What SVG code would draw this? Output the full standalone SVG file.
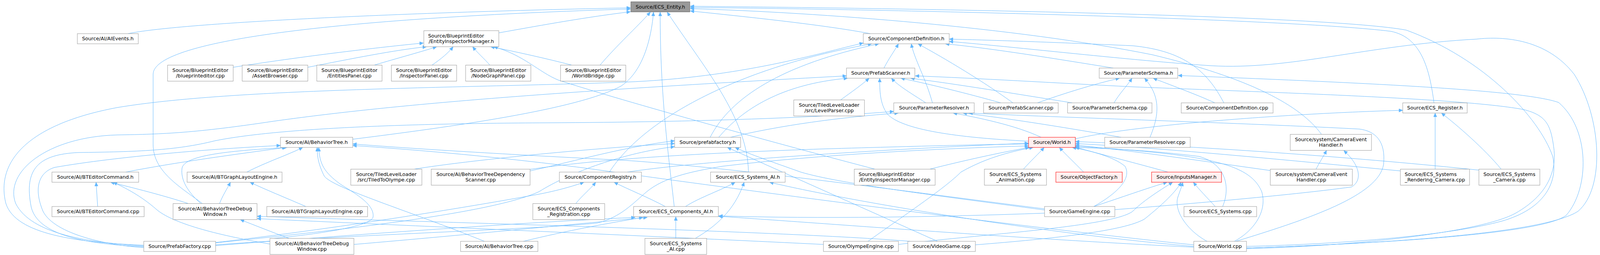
<svg xmlns="http://www.w3.org/2000/svg" width="4112" height="652" viewBox="0 0 4112 652">
<defs>
<style>
.nd rect{fill:#ffffff;stroke:#999999;stroke-width:1}
.cur rect{fill:#999999;stroke:#666666;stroke-width:1}
.red rect{fill:#fff0f0;stroke:#ff0000;stroke-width:1}
text{font-family:"DejaVu Sans","Liberation Sans",sans-serif;font-size:12.7px;fill:#000000;text-anchor:middle}
text.l{text-anchor:start}
#edges path{fill:none;stroke:#63b8ff;stroke-width:1;marker-end:url(#ah)}
</style>
<marker id="ah" viewBox="0 0 10 9" refX="10" refY="4.5" markerWidth="10" markerHeight="9" markerUnits="userSpaceOnUse" orient="auto">
<path d="M0,0 L10,4.5 L0,9 z" fill="#63b8ff" stroke="#63b8ff" stroke-width="0.5"/>
</marker>
</defs>
<rect x="0" y="0" width="4112" height="652" fill="#ffffff"/>
<g id="edges">
<path d="M328,86 C450,60 1000,32 1614,20"/>
<path d="M518,520.5 C465,480 392,440 392,370 L392,190 C392,100 900,45 1614,23"/>
<path d="M1277,84 C1400,62 1500,44 1614,30"/>
<path d="M1536,166.5 C1580,115 1630,70 1665,31"/>
<path d="M903,356 C1150,325 1480,280 1590,220 C1650,180 1668,90 1673,31"/>
<path d="M1726,528 C1712,400 1690,250 1690,31"/>
<path d="M1916,440 C1914,300 1800,170 1708,31"/>
<path d="M2228,86 C2100,62 1900,42 1767,28"/>
<path d="M3671,263 C3660,180 3640,95 3560,80 C3300,48 2300,24 1767,19"/>
<path d="M3191,630 C3450,624 3720,600 3846,565 C3950,535 3990,470 3975,400 C3940,300 3800,150 3600,77 C3400,40 2400,22 1767,16"/>
<path d="M3383,343.5 C3330,270 3200,200 2950,140 C2600,70 2100,32 1767,22"/>
<path d="M597,172 C800,140 1000,118 1084,110"/>
<path d="M788,172 C900,150 1010,128 1092,119.5"/>
<path d="M958,166.5 C1020,148 1080,132 1118,119.5"/>
<path d="M1106,166.5 C1130,150 1148,135 1160,119.5"/>
<path d="M1254,166.5 C1240,150 1222,135 1210,119.5"/>
<path d="M1464,166.5 C1400,150 1320,132 1256,119.5"/>
<path d="M2240,432.5 C2000,370 1600,260 1430,205 C1380,185 1340,140 1264,119.5"/>
<path d="M368,627 C200,620 40,600 15,520 C-10,420 60,320 300,275 C600,225 1200,225 1600,210 C1900,198 2100,135 2210,110"/>
<path d="M1560,440 C1650,300 1900,170 2232,112"/>
<path d="M1818,351 C1870,250 2000,165 2250,112"/>
<path d="M2263,174 C2275,150 2290,130 2300,112"/>
<path d="M2387,263 C2370,200 2340,150 2333,112"/>
<path d="M2593,263 C2520,210 2420,150 2350,112"/>
<path d="M3133,263 C3090,180 3030,130 2900,117 C2700,108 2550,103 2430,100"/>
<path d="M3191,634 C3500,624 3950,600 4040,540 C4110,480 4100,300 4030,190 C3960,100 3850,92 3780,100 C3500,115 3300,180 3100,168 C2900,155 2600,120 2430,106"/>
<path d="M2850,174 C2700,150 2550,125 2420,112"/>
<path d="M368,629 C230,620 80,600 40,520 C10,440 120,350 300,345 C420,343 500,340 700,310 C1000,268 1400,235 2167,194"/>
<path d="M1840,351 C1900,280 2000,215 2170,200"/>
<path d="M2152,255.5 C2180,235 2205,218 2225,200"/>
<path d="M2370,263 C2335,240 2300,220 2282,200"/>
<path d="M2562,263 C2480,240 2380,215 2306,200"/>
<path d="M2633,361 C2450,352 2310,332 2272,292 C2252,265 2252,230 2252,200"/>
<path d="M2745,263 C2600,240 2450,215 2331,200"/>
<path d="M3191,636 C3500,628 3800,590 3880,545 C3960,500 3985,440 3978,380 C3970,320 3960,295 3900,280 C3750,252 3300,238 2900,222 C2700,212 2500,200 2343,194"/>
<path d="M2656,263 C2720,240 2800,215 2866,200"/>
<path d="M2852,263 C2865,240 2885,220 2898,200"/>
<path d="M2944,351 C2965,300 2975,250 2930,200"/>
<path d="M3110,263 C3060,240 2990,215 2952,200"/>
<path d="M3191,634 C3500,624 3950,600 4010,550 C4070,480 4070,330 3990,262 C3900,230 3500,212 3016,193"/>
<path d="M1870,351 C2000,320 2150,300 2300,289"/>
<path d="M368,631 C250,625 100,610 80,530 C60,430 100,395 200,390 C350,388 450,385 550,360 C700,330 1000,316 1400,314 C1800,312 2100,300 2288,285"/>
<path d="M2665,351 C2600,320 2500,300 2440,289"/>
<path d="M2870,351 C2750,330 2600,305 2465,289"/>
<path d="M3164,617 C3350,560 3530,500 3542,420 C3548,360 3520,335 3480,330 C3200,315 2700,300 2480,289"/>
<path d="M2753,355 C2900,320 3300,290 3591,282"/>
<path d="M3674,432.5 L3674,289"/>
<path d="M3843,432.5 C3800,380 3730,320 3690,289"/>
<path d="M322,440 C450,415 600,395 732,377"/>
<path d="M632,440 C680,415 740,395 775,377"/>
<path d="M514,520.5 C480,490 462,460 466,430 C472,395 600,385 735,377"/>
<path d="M368,633 C280,628 140,600 110,540 C85,480 100,440 140,428 C300,400 550,380 718,372"/>
<path d="M1240,617 C1050,540 850,480 830,450 C815,420 812,400 812,377"/>
<path d="M700,609.5 C800,600 950,580 955,555 C960,520 900,490 870,470 C830,440 818,420 816,377"/>
<path d="M2674,534 C2400,500 1900,430 1600,410 C1300,395 1050,380 903,368"/>
<path d="M3056,626 C2700,590 2000,500 1500,430 C1250,398 1050,382 903,372"/>
<path d="M552,621 C800,595 1250,550 1380,490 C1460,440 1600,390 1727,375"/>
<path d="M1060,432.5 C1200,410 1500,380 1727,367"/>
<path d="M1357,437 C1480,410 1600,375 1727,360"/>
<path d="M1357,433 C1500,412 1700,395 2100,381 C2400,372 2550,369 2633,368"/>
<path d="M552,626 C900,600 1400,585 1530,570 C1590,555 1620,520 1657,489 C1700,455 1760,440 1850,425 C2100,395 2400,380 2633,373"/>
<path d="M2400,617 L1862,377"/>
<path d="M2674,537 C2400,500 2150,470 2050,440 C1980,415 1920,395 1882,377"/>
<path d="M2380,432.5 C2470,410 2560,390 2635,377"/>
<path d="M2620,432.5 C2640,410 2660,392 2673,377"/>
<path d="M2774,440 C2750,415 2728,395 2712,377"/>
<path d="M2990,440 C2900,415 2820,395 2752,376"/>
<path d="M2800,528 C2850,500 2900,460 2880,425 C2850,400 2790,385 2745,377"/>
<path d="M3130,528 C3150,480 3140,420 3070,400 C2950,385 2850,380 2753,377"/>
<path d="M3160,617 C3210,590 3245,540 3230,490 C3200,420 3100,395 2753,374"/>
<path d="M3252,436 C3100,415 2900,385 2753,371"/>
<path d="M3585,437 C3300,410 3000,380 2753,367"/>
<path d="M3786,435 C3500,405 3100,375 2753,362"/>
<path d="M1606,440 C1800,410 2300,380 2633,366"/>
<path d="M2222,617 C2330,540 2420,480 2460,440 C2530,400 2600,385 2645,377"/>
<path d="M3056,630 C2700,600 2200,520 1970,466"/>
<path d="M1755,528 C1790,505 1850,485 1882,466"/>
<path d="M1780,609.5 C1830,580 1880,540 1905,466"/>
<path d="M2800,528 C2870,505 2940,480 2988,466"/>
<path d="M2300,625 C2500,600 2850,580 2900,540 C2930,510 2980,480 3002,466"/>
<path d="M2497,626 C2700,610 2880,590 2930,560 C2980,520 3010,490 3024,466"/>
<path d="M3090,617 C3040,590 3005,540 3015,505 C3020,490 3025,478 3028,466"/>
<path d="M3111,528 C3090,505 3070,485 3055,466"/>
<path d="M3369,432.5 C3378,415 3388,400 3396,384.5"/>
<path d="M2854,536 C3000,525 3300,500 3460,478 C3490,460 3480,420 3440,385"/>
<path d="M250,528 L246,466"/>
<path d="M482,520.5 C420,500 340,480 283,466"/>
<path d="M691,624 C550,600 440,570 400,535 C360,500 320,480 290,466"/>
<path d="M562,520.5 C570,500 580,485 590,466"/>
<path d="M783,528 C730,505 680,485 640,466"/>
<path d="M740,609.5 C700,595 650,575 615,561.5"/>
<path d="M2108,625 C1700,605 1000,575 658,559"/>
<path d="M2330,617 C2000,590 1000,565 658,553"/>
<path d="M552,620 C900,580 1250,520 1360,500 C1420,490 1470,475 1495,466"/>
<path d="M1474,520.5 C1490,500 1510,485 1525,466"/>
<path d="M1703,528 C1660,505 1610,485 1572,466"/>
<path d="M1730,609.5 L1730,554"/>
<path d="M552,628 C900,600 1400,565 1626,556"/>
<path d="M1340,617 C1450,590 1560,570 1646,556"/>
<path d="M906,625 C1200,600 1500,570 1657,556"/>
<path d="M3056,632 C2600,610 2100,570 1839,553"/>
<path d="M2674,545 C2400,555 2100,560 1840,552"/>
</g>
<g id="n_entity" class="cur"><rect x="1615" y="4.5" width="151" height="26"/><text x="1690.5" y="21.5">Source/ECS_Entity.h</text></g>
<g id="n_aievents" class="nd"><rect x="198" y="86" width="156" height="26"/><text x="276" y="103">Source/AI/AIEvents.h</text></g>
<g id="n_eimh" class="nd"><rect x="1085" y="78.5" width="192" height="41"/><text class="l" x="1096" y="95.7">Source/BlueprintEditor</text><text x="1181" y="110.3">/EntityInspectorManager.h</text></g>
<g id="n_compdefh" class="nd"><rect x="2210" y="86" width="220" height="26"/><text x="2320" y="103">Source/ComponentDefinition.h</text></g>
<g id="n_bpeditor" class="nd"><rect x="429" y="166.5" width="168" height="41"/><text x="513" y="183.7">Source/BlueprintEditor</text><text x="513" y="198.3">/blueprinteditor.cpp</text></g>
<g id="n_assetbrowser" class="nd"><rect x="620" y="166.5" width="168" height="41"/><text x="704" y="183.7">Source/BlueprintEditor</text><text x="704" y="198.3">/AssetBrowser.cpp</text></g>
<g id="n_entitiespanel" class="nd"><rect x="811" y="166.5" width="167" height="41"/><text x="894.5" y="183.7">Source/BlueprintEditor</text><text x="894.5" y="198.3">/EntitiesPanel.cpp</text></g>
<g id="n_inspectorpanel" class="nd"><rect x="1002" y="166.5" width="167" height="41"/><text x="1085.5" y="183.7">Source/BlueprintEditor</text><text x="1085.5" y="198.3">/InspectorPanel.cpp</text></g>
<g id="n_nodegraphpanel" class="nd"><rect x="1192" y="166.5" width="167" height="41"/><text x="1275.5" y="183.7">Source/BlueprintEditor</text><text x="1275.5" y="198.3">/NodeGraphPanel.cpp</text></g>
<g id="n_worldbridge" class="nd"><rect x="1435" y="166.5" width="167" height="41"/><text x="1518.5" y="183.7">Source/BlueprintEditor</text><text x="1518.5" y="198.3">/WorldBridge.cpp</text></g>
<g id="n_prefabscannerh" class="nd"><rect x="2167" y="174" width="175" height="26"/><text x="2254.5" y="191">Source/PrefabScanner.h</text></g>
<g id="n_paramschemah" class="nd"><rect x="2814" y="174" width="201" height="26"/><text x="2914.5" y="191">Source/ParameterSchema.h</text></g>
<g id="n_levelparser" class="nd"><rect x="2032" y="255.5" width="181" height="41"/><text x="2122.5" y="272.7">Source/TiledLevelLoader</text><text x="2122.5" y="287.3">/src/LevelParser.cpp</text></g>
<g id="n_paramresolverh" class="nd"><rect x="2288" y="263" width="206" height="26"/><text x="2391" y="280">Source/ParameterResolver.h</text></g>
<g id="n_prefabscannercpp" class="nd"><rect x="2518" y="263" width="191" height="26"/><text x="2613.5" y="280">Source/PrefabScanner.cpp</text></g>
<g id="n_paramschemacpp" class="nd"><rect x="2733" y="263" width="216" height="26"/><text x="2841" y="280">Source/ParameterSchema.cpp</text></g>
<g id="n_compdefcpp" class="nd"><rect x="3024" y="263" width="235" height="26"/><text x="3141.5" y="280">Source/ComponentDefinition.cpp</text></g>
<g id="n_ecsregister" class="nd"><rect x="3591" y="263" width="165" height="26"/><text x="3673.5" y="280">Source/ECS_Register.h</text></g>
<g id="n_bth" class="nd"><rect x="718" y="351" width="185" height="26"/><text x="810.5" y="368">Source/AI/BehaviorTree.h</text></g>
<g id="n_prefabfactoryh" class="nd"><rect x="1727" y="351" width="169" height="26"/><text x="1811.5" y="368">Source/prefabfactory.h</text></g>
<g id="n_worldh" class="red"><rect x="2633" y="351" width="120" height="26"/><text x="2693" y="368">Source/World.h</text></g>
<g id="n_paramresolvercpp" class="nd"><rect x="2828" y="351" width="219" height="26"/><text x="2937.5" y="368">Source/ParameterResolver.cpp</text></g>
<g id="n_camerah" class="nd"><rect x="3303" y="343.5" width="208" height="41"/><text x="3407" y="360.7">Source/system/CameraEvent</text><text x="3407" y="375.3">Handler.h</text></g>
<g id="n_btcmdh" class="nd"><rect x="133" y="440" width="222" height="26"/><text x="244" y="457">Source/AI/BTEditorCommand.h</text></g>
<g id="n_btlayouth" class="nd"><rect x="479" y="440" width="243" height="26"/><text x="600.5" y="457">Source/AI/BTGraphLayoutEngine.h</text></g>
<g id="n_tiledtoolympe" class="nd"><rect x="898" y="432.5" width="182" height="41"/><text x="989" y="449.7">Source/TiledLevelLoader</text><text x="989" y="464.3">/src/TiledToOlympe.cpp</text></g>
<g id="n_btdepscanner" class="nd"><rect x="1104" y="432.5" width="253" height="41"/><text x="1230.5" y="449.7">Source/AI/BehaviorTreeDependency</text><text x="1230.5" y="464.3">Scanner.cpp</text></g>
<g id="n_compregh" class="nd"><rect x="1432" y="440" width="210" height="26"/><text x="1537" y="457">Source/ComponentRegistry.h</text></g>
<g id="n_sysaih" class="nd"><rect x="1819" y="440" width="191" height="26"/><text x="1914.5" y="457">Source/ECS_Systems_AI.h</text></g>
<g id="n_eimcpp" class="nd"><rect x="2187" y="432.5" width="207" height="41"/><text class="l" x="2198" y="449.7">Source/BlueprintEditor</text><text x="2290.5" y="464.3">/EntityInspectorManager.cpp</text></g>
<g id="n_sysanim" class="nd"><rect x="2520" y="432.5" width="159" height="41"/><text x="2599.5" y="449.7">Source/ECS_Systems</text><text x="2599.5" y="464.3">_Animation.cpp</text></g>
<g id="n_objfactory" class="red"><rect x="2703" y="440" width="170" height="26"/><text x="2788" y="457">Source/ObjectFactory.h</text></g>
<g id="n_inputsmgr" class="red"><rect x="2948" y="440" width="179" height="26"/><text x="3037.5" y="457">Source/InputsManager.h</text></g>
<g id="n_cameracpp" class="nd"><rect x="3252" y="432.5" width="210" height="41"/><text x="3357" y="449.7">Source/system/CameraEvent</text><text x="3357" y="464.3">Handler.cpp</text></g>
<g id="n_sysrendercam" class="nd"><rect x="3585" y="432.5" width="177" height="41"/><text class="l" x="3596" y="449.7">Source/ECS_Systems</text><text x="3673.5" y="464.3">_Rendering_Camera.cpp</text></g>
<g id="n_syscam" class="nd"><rect x="3786" y="432.5" width="156" height="41"/><text x="3864" y="449.7">Source/ECS_Systems</text><text x="3864" y="464.3">_Camera.cpp</text></g>
<g id="n_btcmdcpp" class="nd"><rect x="133" y="528" width="236" height="26"/><text x="251" y="545">Source/AI/BTEditorCommand.cpp</text></g>
<g id="n_btdwh" class="nd"><rect x="443" y="520.5" width="215" height="41"/><text x="550.5" y="537.7">Source/AI/BehaviorTreeDebug</text><text x="550.5" y="552.3">Window.h</text></g>
<g id="n_btlayoutcpp" class="nd"><rect x="683" y="528" width="258" height="26"/><text x="812" y="545">Source/AI/BTGraphLayoutEngine.cpp</text></g>
<g id="n_compregcpp" class="nd"><rect x="1364" y="520.5" width="184" height="41"/><text x="1456" y="537.7">Source/ECS_Components</text><text x="1456" y="552.3">_Registration.cpp</text></g>
<g id="n_compaih" class="nd"><rect x="1622" y="528" width="217" height="26"/><text x="1730.5" y="545">Source/ECS_Components_AI.h</text></g>
<g id="n_gameengine" class="nd"><rect x="2674" y="528" width="180" height="26"/><text x="2764" y="545">Source/GameEngine.cpp</text></g>
<g id="n_ecssystems" class="nd"><rect x="3031" y="528" width="186" height="26"/><text x="3124" y="545">Source/ECS_Systems.cpp</text></g>
<g id="n_prefabfactorycpp" class="nd"><rect x="368" y="617" width="184" height="26"/><text x="460" y="634">Source/PrefabFactory.cpp</text></g>
<g id="n_btdwcpp" class="nd"><rect x="691" y="609.5" width="215" height="41"/><text x="798.5" y="626.7">Source/AI/BehaviorTreeDebug</text><text x="798.5" y="641.3">Window.cpp</text></g>
<g id="n_btcpp" class="nd"><rect x="1179" y="617" width="198" height="26"/><text x="1278" y="634">Source/AI/BehaviorTree.cpp</text></g>
<g id="n_sysaicpp" class="nd"><rect x="1651" y="609.5" width="158" height="41"/><text x="1730" y="626.7">Source/ECS_Systems</text><text x="1730" y="641.3">_AI.cpp</text></g>
<g id="n_olympe" class="nd"><rect x="2108" y="617" width="192" height="26"/><text x="2204" y="634">Source/OlympeEngine.cpp</text></g>
<g id="n_videogame" class="nd"><rect x="2324" y="617" width="173" height="26"/><text x="2410.5" y="634">Source/VideoGame.cpp</text></g>
<g id="n_worldcpp" class="nd"><rect x="3056" y="617" width="135" height="26"/><text x="3123.5" y="634">Source/World.cpp</text></g>
</svg>
